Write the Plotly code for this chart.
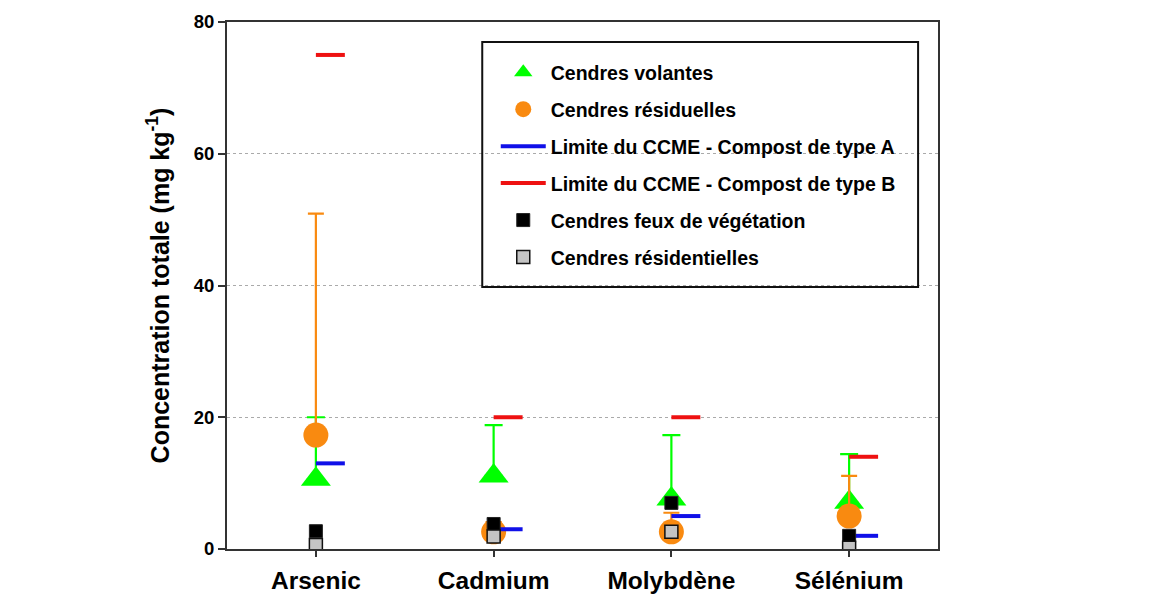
import plotly.graph_objects as go

categories = ["Arsenic", "Cadmium", "Molybdène", "Sélénium"]
volantes = [10.6, 11.1, 7.6, 7.1]
volantes_err = [9.4, 7.7, 9.7, 7.3]
residuelles = [17.3, 2.6, 2.6, 5.0]
residuelles_err = [33.6, 1.5, 2.9, 6.1]
limite_a = [13, 3, 5, 2]
limite_b = [75, 20, 20, 14]
feux = [2.7, 3.8, 7.0, 2.0]
residentielles = [0.6, 1.9, 2.6, 0.2]

xi = list(range(len(categories)))
SEG = 0.163  # length of the limit segments, in category units


def segments(vals):
    xs, ys = [], []
    for i, v in zip(xi, vals):
        xs += [i, i + SEG, None]
        ys += [v, v, None]
    return xs, ys


FONT = "Arial, Liberation Sans, sans-serif"
fig = go.Figure()

fig.add_trace(go.Scatter(
    x=xi, y=volantes, mode="markers", name="Cendres volantes",
    marker=dict(symbol="triangle-up", size=26, color="#00ff00", line=dict(width=0)),
    error_y=dict(type="data", array=volantes_err, arrayminus=[0] * 4, symmetric=False,
                 color="#00ff00", thickness=2.2, width=9),
    legendgroup="g1"))
fig.add_trace(go.Scatter(
    x=xi, y=residuelles, mode="markers", name="Cendres résiduelles",
    marker=dict(symbol="circle", size=25, color="#f98a10", line=dict(width=0)),
    error_y=dict(type="data", array=residuelles_err, arrayminus=[0] * 4, symmetric=False,
                 color="#f98a10", thickness=2.2, width=8),
    legendgroup="g2"))
xa, ya = segments(limite_a)
fig.add_trace(go.Scatter(
    x=xa, y=ya, mode="lines", name="Limite du CCME - Compost de type A",
    line=dict(color="#1010e8", width=4), legendgroup="g3"))
xb, yb = segments(limite_b)
fig.add_trace(go.Scatter(
    x=xb, y=yb, mode="lines", name="Limite du CCME - Compost de type B",
    line=dict(color="#ee1111", width=4), legendgroup="g4"))
fig.add_trace(go.Scatter(
    x=xi, y=feux, mode="markers", name="Cendres feux de végétation",
    marker=dict(symbol="square", size=13, color="#000000", line=dict(width=1, color="#222222")),
    legendgroup="g5"))
fig.add_trace(go.Scatter(
    x=xi, y=residentielles, mode="markers", name="Cendres résidentielles",
    marker=dict(symbol="square", size=13, color="#c4c4c4", line=dict(width=1.5, color="#111111")),
    legendgroup="g6"))

fig.update_layout(
    width=1170, height=613,
    margin=dict(l=219, r=240, t=14, b=72),
    paper_bgcolor="white", plot_bgcolor="white",
    font=dict(family=FONT, color="#000000"),
    showlegend=True,
    legend=dict(
        x=0.378, y=0.941, xanchor="left", yanchor="top",
        bgcolor="rgba(0,0,0,0)", borderwidth=0,
        font=dict(family=FONT, size=19.5, weight="bold", color="#000000"),
        tracegroupgap=8.6, itemwidth=45, traceorder="grouped",
    ),
    shapes=[dict(type="rect", xref="paper", yref="paper",
                 x0=0.359, x1=0.972, y0=0.497, y1=0.962,
                 line=dict(color="#111111", width=2), fillcolor="rgba(0,0,0,0)")],
)

fig.update_xaxes(
    range=[-0.5, 3.5], tickmode="array", tickvals=xi, ticktext=categories,
    showgrid=False, zeroline=False, automargin=False,
    showline=True, linecolor="#333333", linewidth=2, mirror=True,
    ticks="outside", ticklen=6, tickwidth=2, tickcolor="#333333",
    ticklabelstandoff=3,
    tickfont=dict(family=FONT, size=24.5, weight="bold", color="#000000"),
)
fig.update_yaxes(
    range=[0, 80], tickvals=[0, 20, 40, 60, 80],
    showgrid=True, gridcolor="#aaaaaa", griddash="dot", gridwidth=1,
    zeroline=False, automargin=False,
    showline=True, linecolor="#333333", linewidth=2, mirror=True,
    ticks="outside", ticklen=7, tickwidth=2, tickcolor="#333333",
    tickfont=dict(family=FONT, size=18.5, weight="bold", color="#000000"),
    title=dict(text="Concentration totale (mg kg<sup>-1</sup>)", standoff=17,
               font=dict(family=FONT, size=25, weight="bold", color="#000000")),
)

fig.write_html("out.html")
